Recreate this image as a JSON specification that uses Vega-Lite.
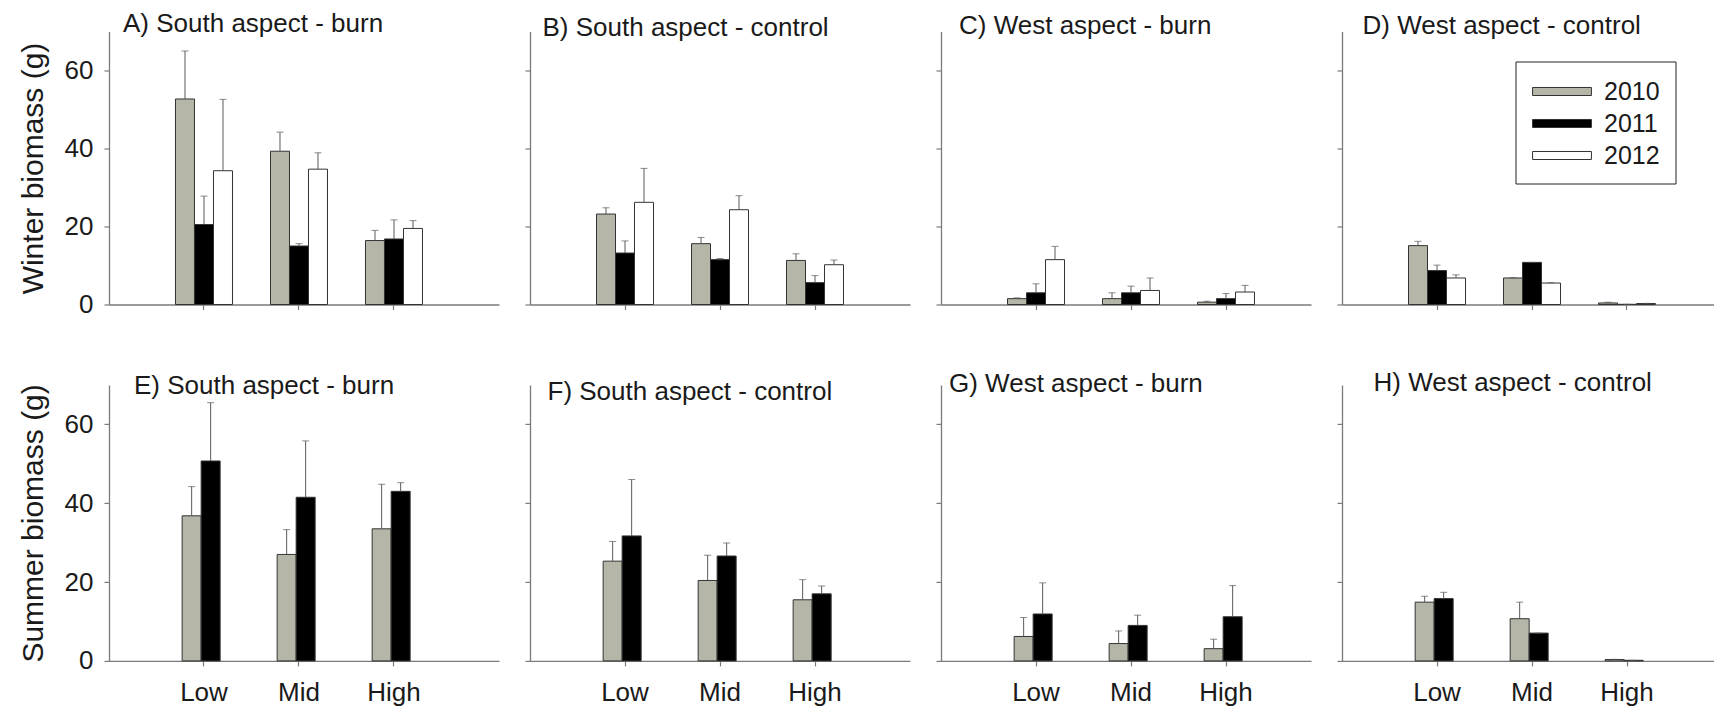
{
  "$schema": "https://vega.github.io/schema/vega-lite/v6.json",
  "padding": {"left": 18, "top": 10.5, "right": 0, "bottom": 0},
  "autosize": {"type": "pad"},
  "data": {"values": [
    {"p":"A","e":"Low","yr":"2010","m":52.7,"u":65.0},
    {"p":"A","e":"Low","yr":"2011","m":20.5,"u":27.8},
    {"p":"A","e":"Low","yr":"2012","m":34.3,"u":52.6},
    {"p":"A","e":"Mid","yr":"2010","m":39.3,"u":44.2},
    {"p":"A","e":"Mid","yr":"2011","m":15.0,"u":15.6},
    {"p":"A","e":"Mid","yr":"2012","m":34.7,"u":38.9},
    {"p":"A","e":"High","yr":"2010","m":16.4,"u":19.0},
    {"p":"A","e":"High","yr":"2011","m":16.8,"u":21.7},
    {"p":"A","e":"High","yr":"2012","m":19.5,"u":21.5},
    {"p":"B","e":"Low","yr":"2010","m":23.2,"u":24.8},
    {"p":"B","e":"Low","yr":"2011","m":13.2,"u":16.3},
    {"p":"B","e":"Low","yr":"2012","m":26.2,"u":34.9},
    {"p":"B","e":"Mid","yr":"2010","m":15.6,"u":17.2},
    {"p":"B","e":"Mid","yr":"2011","m":11.5,"u":11.8},
    {"p":"B","e":"Mid","yr":"2012","m":24.3,"u":27.9},
    {"p":"B","e":"High","yr":"2010","m":11.3,"u":13.0},
    {"p":"B","e":"High","yr":"2011","m":5.6,"u":7.4},
    {"p":"B","e":"High","yr":"2012","m":10.2,"u":11.4},
    {"p":"C","e":"Low","yr":"2010","m":1.5,"u":1.7},
    {"p":"C","e":"Low","yr":"2011","m":3.0,"u":5.3},
    {"p":"C","e":"Low","yr":"2012","m":11.5,"u":14.9},
    {"p":"C","e":"Mid","yr":"2010","m":1.5,"u":3.0},
    {"p":"C","e":"Mid","yr":"2011","m":3.0,"u":4.7},
    {"p":"C","e":"Mid","yr":"2012","m":3.6,"u":6.8},
    {"p":"C","e":"High","yr":"2010","m":0.6,"u":0.85},
    {"p":"C","e":"High","yr":"2011","m":1.5,"u":2.8},
    {"p":"C","e":"High","yr":"2012","m":3.2,"u":4.9},
    {"p":"D","e":"Low","yr":"2010","m":15.1,"u":16.2},
    {"p":"D","e":"Low","yr":"2011","m":8.7,"u":10.1},
    {"p":"D","e":"Low","yr":"2012","m":6.8,"u":7.6},
    {"p":"D","e":"Mid","yr":"2010","m":6.8,"u":6.9},
    {"p":"D","e":"Mid","yr":"2011","m":10.8,"u":10.8},
    {"p":"D","e":"Mid","yr":"2012","m":5.5,"u":5.6},
    {"p":"D","e":"High","yr":"2010","m":0.4,"u":0.6},
    {"p":"D","e":"High","yr":"2011","m":0.05,"u":0.05},
    {"p":"D","e":"High","yr":"2012","m":0.25,"u":0.3},
    {"p":"E","e":"Low","yr":"2010","m":36.8,"u":44.2},
    {"p":"E","e":"Low","yr":"2011","m":50.7,"u":65.5},
    {"p":"E","e":"Mid","yr":"2010","m":27.0,"u":33.3},
    {"p":"E","e":"Mid","yr":"2011","m":41.5,"u":55.8},
    {"p":"E","e":"High","yr":"2010","m":33.5,"u":44.8},
    {"p":"E","e":"High","yr":"2011","m":43.0,"u":45.2},
    {"p":"F","e":"Low","yr":"2010","m":25.3,"u":30.3},
    {"p":"F","e":"Low","yr":"2011","m":31.7,"u":46.0},
    {"p":"F","e":"Mid","yr":"2010","m":20.4,"u":26.8},
    {"p":"F","e":"Mid","yr":"2011","m":26.6,"u":29.9},
    {"p":"F","e":"High","yr":"2010","m":15.5,"u":20.6},
    {"p":"F","e":"High","yr":"2011","m":17.0,"u":19.0},
    {"p":"G","e":"Low","yr":"2010","m":6.2,"u":11.0},
    {"p":"G","e":"Low","yr":"2011","m":11.9,"u":19.8},
    {"p":"G","e":"Mid","yr":"2010","m":4.4,"u":7.6},
    {"p":"G","e":"Mid","yr":"2011","m":9.0,"u":11.6},
    {"p":"G","e":"High","yr":"2010","m":3.1,"u":5.5},
    {"p":"G","e":"High","yr":"2011","m":11.2,"u":19.1},
    {"p":"H","e":"Low","yr":"2010","m":14.9,"u":16.4},
    {"p":"H","e":"Low","yr":"2011","m":15.8,"u":17.4},
    {"p":"H","e":"Mid","yr":"2010","m":10.7,"u":14.9},
    {"p":"H","e":"Mid","yr":"2011","m":7.05,"u":7.05},
    {"p":"H","e":"High","yr":"2010","m":0.35,"u":0.4},
    {"p":"H","e":"High","yr":"2011","m":0.15,"u":0.15}
  ]},
  "columns": 4,
  "spacing": {"row": 52.4, "column": 25},
  "align": "each",
  "resolve": {"scale": {"fill": "independent", "x": "independent", "y": "independent"}, "legend": {"fill": "independent"}},
  "concat": [
    {
      "width": 390, "height": 273,
      "title": {"text": "A) South aspect - burn", "dx": 14, "offset": -5.5},
      "transform": [{"filter": "datum.p === 'A'"}],
      "encoding": {
        "x": {"field": "e", "type": "nominal", "sort": ["Low","Mid","High"], "scale": {"domain": ["Low","Mid","High"], "paddingInner": 0.4, "paddingOuter": 0.7526, "align": 0.465}, "axis": {"title": null, "labels": false}},
        "xOffset": {"field": "yr", "type": "nominal", "scale": {"domain": ["2010","2011","2012"], "paddingInner": 0, "paddingOuter": 0}},
        "y": {"field": "m", "type": "quantitative", "scale": {"domain": [0,70], "nice": false}, "axis": {"title": "Winter biomass (g)", "values": [0,20,40,60], "titlePadding": 16}}
      },
      "layer": [
        {"mark": {"type": "bar", "stroke": "#333333", "strokeWidth": 1},
         "encoding": {
           "fill": {"field": "yr", "type": "nominal", "scale": {"domain": ["2010","2011","2012"], "range": ["#b5b5a8","#000000","#ffffff"]}, "legend": null}}},
        {"mark": {"type": "rule", "color": "#5a5a5a", "strokeWidth": 1},
         "encoding": {"y2": {"field": "u"}}},
        {"mark": {"type": "tick", "color": "#5a5a5a", "orient": "horizontal", "size": 7, "thickness": 1},
         "encoding": {"y": {"field": "u", "type": "quantitative", "scale": {"domain": [0,70], "nice": false}, "axis": {"title": "Winter biomass (g)", "values": [0,20,40,60], "titlePadding": 16}}}}
      ]
    },
    {
      "width": 380, "height": 273,
      "title": {"text": "B) South aspect - control", "dx": 12.5, "offset": -9.5},
      "transform": [{"filter": "datum.p === 'B'"}],
      "encoding": {
        "x": {"field": "e", "type": "nominal", "sort": ["Low","Mid","High"], "scale": {"domain": ["Low","Mid","High"], "paddingInner": 0.4, "paddingOuter": 0.7, "align": 0.5}, "axis": {"title": null, "labels": false}},
        "xOffset": {"field": "yr", "type": "nominal", "scale": {"domain": ["2010","2011","2012"], "paddingInner": 0, "paddingOuter": 0}},
        "y": {"field": "m", "type": "quantitative", "scale": {"domain": [0,70], "nice": false}, "axis": {"title": null, "labels": false, "values": [0,20,40,60]}}
      },
      "layer": [
        {"mark": {"type": "bar", "stroke": "#333333", "strokeWidth": 1},
         "encoding": {
           "fill": {"field": "yr", "type": "nominal", "scale": {"domain": ["2010","2011","2012"], "range": ["#b5b5a8","#000000","#ffffff"]}, "legend": null}}},
        {"mark": {"type": "rule", "color": "#5a5a5a", "strokeWidth": 1},
         "encoding": {"y2": {"field": "u"}}},
        {"mark": {"type": "tick", "color": "#5a5a5a", "orient": "horizontal", "size": 7, "thickness": 1},
         "encoding": {"y": {"field": "u", "type": "quantitative", "scale": {"domain": [0,70], "nice": false}, "axis": {"title": null, "labels": false, "values": [0,20,40,60]}}}}
      ]
    },
    {
      "width": 370, "height": 273,
      "title": {"text": "C) West aspect - burn", "dx": 18, "offset": -7.5},
      "transform": [{"filter": "datum.p === 'C'"}],
      "encoding": {
        "x": {"field": "e", "type": "nominal", "sort": ["Low","Mid","High"], "scale": {"domain": ["Low","Mid","High"], "paddingInner": 0.4, "paddingOuter": 0.6474, "align": 0.5407}, "axis": {"title": null, "labels": false}},
        "xOffset": {"field": "yr", "type": "nominal", "scale": {"domain": ["2010","2011","2012"], "paddingInner": 0, "paddingOuter": 0}},
        "y": {"field": "m", "type": "quantitative", "scale": {"domain": [0,70], "nice": false}, "axis": {"title": null, "labels": false, "values": [0,20,40,60]}}
      },
      "layer": [
        {"mark": {"type": "bar", "stroke": "#333333", "strokeWidth": 1},
         "encoding": {
           "fill": {"field": "yr", "type": "nominal", "scale": {"domain": ["2010","2011","2012"], "range": ["#b5b5a8","#000000","#ffffff"]}, "legend": null}}},
        {"mark": {"type": "rule", "color": "#5a5a5a", "strokeWidth": 1},
         "encoding": {"y2": {"field": "u"}}},
        {"mark": {"type": "tick", "color": "#5a5a5a", "orient": "horizontal", "size": 7, "thickness": 1},
         "encoding": {"y": {"field": "u", "type": "quantitative", "scale": {"domain": [0,70], "nice": false}, "axis": {"title": null, "labels": false, "values": [0,20,40,60]}}}}
      ]
    },
    {
      "width": 372, "height": 273,
      "title": {"text": "D) West aspect - control", "dx": 20.5, "offset": -7.5},
      "transform": [{"filter": "datum.p === 'D'"}],
      "encoding": {
        "x": {"field": "e", "type": "nominal", "sort": ["Low","Mid","High"], "scale": {"domain": ["Low","Mid","High"], "paddingInner": 0.4, "paddingOuter": 0.6579, "align": 0.532}, "axis": {"title": null, "labels": false}},
        "xOffset": {"field": "yr", "type": "nominal", "scale": {"domain": ["2010","2011","2012"], "paddingInner": 0, "paddingOuter": 0}},
        "y": {"field": "m", "type": "quantitative", "scale": {"domain": [0,70], "nice": false}, "axis": {"title": null, "labels": false, "values": [0,20,40,60]}}
      },
      "layer": [
        {"mark": {"type": "bar", "stroke": "#333333", "strokeWidth": 1},
         "encoding": {
           "fill": {"field": "yr", "type": "nominal", "scale": {"domain": ["2010","2011","2012"], "range": ["#b5b5a8","#000000","#ffffff"]},
             "legend": {"orient": "none", "legendX": 173.5, "legendY": 30, "title": null, "symbolType": "M-2.03,-0.276H2.03V0.276H-2.03Z", "symbolSize": 841, "symbolStrokeColor": "#333333", "symbolStrokeWidth": 1, "symbolOffset": 16.5, "labelOffset": 27, "labelFontSize": 25, "labelFont": "Liberation Sans", "labelColor": "#1a1a1a", "padding": 15, "strokeColor": "#222222", "fillColor": "#ffffff", "rowPadding": 4}}}},
        {"mark": {"type": "rule", "color": "#5a5a5a", "strokeWidth": 1},
         "encoding": {"y2": {"field": "u"}}},
        {"mark": {"type": "tick", "color": "#5a5a5a", "orient": "horizontal", "size": 7, "thickness": 1},
         "encoding": {"y": {"field": "u", "type": "quantitative", "scale": {"domain": [0,70], "nice": false}, "axis": {"title": null, "labels": false, "values": [0,20,40,60]}}}}
      ]
    },
    {
      "width": 390, "height": 276,
      "title": {"text": "E) South aspect - burn", "dx": 25, "offset": -15},
      "transform": [{"filter": "datum.p === 'E'"}],
      "encoding": {
        "x": {"field": "e", "type": "nominal", "sort": ["Low","Mid","High"], "scale": {"domain": ["Low","Mid","High"], "paddingInner": 0.54, "paddingOuter": 0.8226, "align": 0.468}, "axis": {"title": null}},
        "xOffset": {"field": "yr", "type": "nominal", "scale": {"domain": ["2010","2011"], "paddingInner": 0, "paddingOuter": 0}},
        "y": {"field": "m", "type": "quantitative", "scale": {"domain": [0,70], "nice": false}, "axis": {"title": "Summer biomass (g)", "values": [0,20,40,60], "titlePadding": 16}}
      },
      "layer": [
        {"mark": {"type": "bar", "stroke": "#333333", "strokeWidth": 1},
         "encoding": {
           "fill": {"field": "yr", "type": "nominal", "scale": {"domain": ["2010","2011"], "range": ["#b5b5a8","#000000"]}, "legend": null}}},
        {"mark": {"type": "rule", "color": "#5a5a5a", "strokeWidth": 1},
         "encoding": {"y2": {"field": "u"}}},
        {"mark": {"type": "tick", "color": "#5a5a5a", "orient": "horizontal", "size": 7, "thickness": 1},
         "encoding": {"y": {"field": "u", "type": "quantitative", "scale": {"domain": [0,70], "nice": false}, "axis": {"title": "Summer biomass (g)", "values": [0,20,40,60], "titlePadding": 16}}}}
      ]
    },
    {
      "width": 380, "height": 276,
      "title": {"text": "F) South aspect - control", "dx": 17.5, "offset": -20},
      "transform": [{"filter": "datum.p === 'F'"}],
      "encoding": {
        "x": {"field": "e", "type": "nominal", "sort": ["Low","Mid","High"], "scale": {"domain": ["Low","Mid","High"], "paddingInner": 0.54, "paddingOuter": 0.77, "align": 0.5}, "axis": {"title": null}},
        "xOffset": {"field": "yr", "type": "nominal", "scale": {"domain": ["2010","2011"], "paddingInner": 0, "paddingOuter": 0}},
        "y": {"field": "m", "type": "quantitative", "scale": {"domain": [0,70], "nice": false}, "axis": {"title": null, "labels": false, "values": [0,20,40,60]}}
      },
      "layer": [
        {"mark": {"type": "bar", "stroke": "#333333", "strokeWidth": 1},
         "encoding": {
           "fill": {"field": "yr", "type": "nominal", "scale": {"domain": ["2010","2011"], "range": ["#b5b5a8","#000000"]}, "legend": null}}},
        {"mark": {"type": "rule", "color": "#5a5a5a", "strokeWidth": 1},
         "encoding": {"y2": {"field": "u"}}},
        {"mark": {"type": "tick", "color": "#5a5a5a", "orient": "horizontal", "size": 7, "thickness": 1},
         "encoding": {"y": {"field": "u", "type": "quantitative", "scale": {"domain": [0,70], "nice": false}, "axis": {"title": null, "labels": false, "values": [0,20,40,60]}}}}
      ]
    },
    {
      "width": 370, "height": 276,
      "title": {"text": "G) West aspect - burn", "dx": 8, "offset": -12},
      "transform": [{"filter": "datum.p === 'G'"}],
      "encoding": {
        "x": {"field": "e", "type": "nominal", "sort": ["Low","Mid","High"], "scale": {"domain": ["Low","Mid","High"], "paddingInner": 0.54, "paddingOuter": 0.7174, "align": 0.5367}, "axis": {"title": null}},
        "xOffset": {"field": "yr", "type": "nominal", "scale": {"domain": ["2010","2011"], "paddingInner": 0, "paddingOuter": 0}},
        "y": {"field": "m", "type": "quantitative", "scale": {"domain": [0,70], "nice": false}, "axis": {"title": null, "labels": false, "values": [0,20,40,60]}}
      },
      "layer": [
        {"mark": {"type": "bar", "stroke": "#333333", "strokeWidth": 1},
         "encoding": {
           "fill": {"field": "yr", "type": "nominal", "scale": {"domain": ["2010","2011"], "range": ["#b5b5a8","#000000"]}, "legend": null}}},
        {"mark": {"type": "rule", "color": "#5a5a5a", "strokeWidth": 1},
         "encoding": {"y2": {"field": "u"}}},
        {"mark": {"type": "tick", "color": "#5a5a5a", "orient": "horizontal", "size": 7, "thickness": 1},
         "encoding": {"y": {"field": "u", "type": "quantitative", "scale": {"domain": [0,70], "nice": false}, "axis": {"title": null, "labels": false, "values": [0,20,40,60]}}}}
      ]
    },
    {
      "width": 372, "height": 276,
      "title": {"text": "H) West aspect - control", "dx": 31.5, "offset": -11},
      "transform": [{"filter": "datum.p === 'H'"}],
      "encoding": {
        "x": {"field": "e", "type": "nominal", "sort": ["Low","Mid","High"], "scale": {"domain": ["Low","Mid","High"], "paddingInner": 0.54, "paddingOuter": 0.7279, "align": 0.529}, "axis": {"title": null}},
        "xOffset": {"field": "yr", "type": "nominal", "scale": {"domain": ["2010","2011"], "paddingInner": 0, "paddingOuter": 0}},
        "y": {"field": "m", "type": "quantitative", "scale": {"domain": [0,70], "nice": false}, "axis": {"title": null, "labels": false, "values": [0,20,40,60]}}
      },
      "layer": [
        {"mark": {"type": "bar", "stroke": "#333333", "strokeWidth": 1},
         "encoding": {
           "fill": {"field": "yr", "type": "nominal", "scale": {"domain": ["2010","2011"], "range": ["#b5b5a8","#000000"]}, "legend": null}}},
        {"mark": {"type": "rule", "color": "#5a5a5a", "strokeWidth": 1},
         "encoding": {"y2": {"field": "u"}}},
        {"mark": {"type": "tick", "color": "#5a5a5a", "orient": "horizontal", "size": 7, "thickness": 1},
         "encoding": {"y": {"field": "u", "type": "quantitative", "scale": {"domain": [0,70], "nice": false}, "axis": {"title": null, "labels": false, "values": [0,20,40,60]}}}}
      ]
    }
  ],
  "config": {
    "font": "Liberation Sans",
    "view": {"stroke": null},
    "axis": {"grid": false, "domainColor": "#7a7a7a", "tickColor": "#7a7a7a", "domainWidth": 1.3, "tickWidth": 1.2, "tickSize": 5, "labelFont": "Liberation Sans", "labelFontSize": 26, "labelColor": "#1a1a1a", "labelPadding": 11, "titleFont": "Liberation Sans", "titleFontSize": 30, "titleFontWeight": "normal", "titleColor": "#1a1a1a"},
    "axisX": {"labelAngle": 0, "labelPadding": 14},
    "title": {"font": "Liberation Sans", "fontSize": 26, "fontWeight": "normal", "color": "#1a1a1a", "anchor": "start", "frame": "group", "baseline": "alphabetic"}
  }
}
